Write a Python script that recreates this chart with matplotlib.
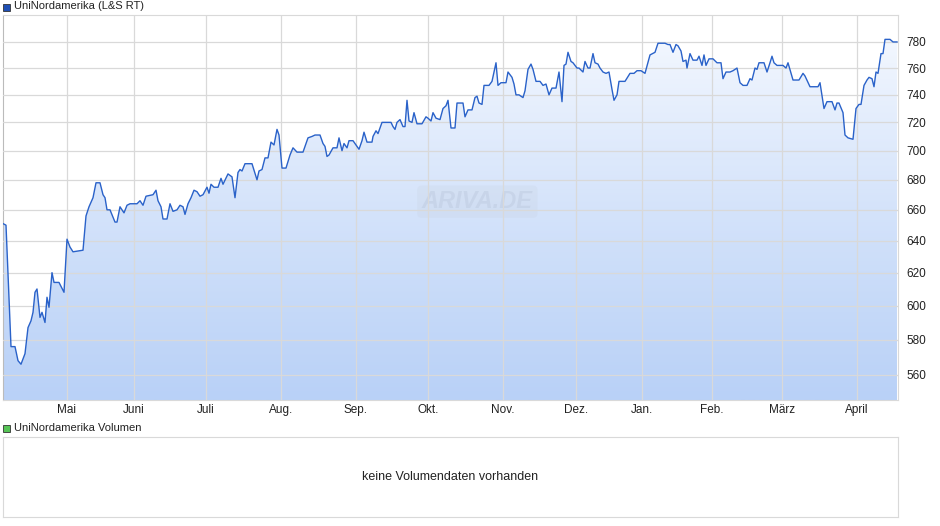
import numpy as np
import matplotlib
matplotlib.use("Agg")
import matplotlib.pyplot as plt
from matplotlib.colors import LinearSegmentedColormap
from matplotlib.ticker import FixedLocator, NullLocator, NullFormatter

# session position (time axis, pixel-proportional trading-time units) and price
t = [3, 6, 11, 15, 18, 21, 25, 28, 31, 33, 35, 37, 40, 42, 45, 47, 49, 52, 54, 59, 64, 67, 70, 73, 83, 86, 89, 93, 96, 100,
     103, 105, 107, 110, 115, 117, 120, 124, 127, 130, 137,
     140, 143, 146, 153, 156, 158, 161, 163, 167, 170, 173, 177, 180, 183, 185, 188, 191, 194, 197, 200, 203, 207, 209, 211,
     214, 218, 221, 223, 228, 232, 235, 238, 240, 242, 245, 252, 257, 259, 262, 265, 268, 271, 274, 277, 279, 282, 286,
     290, 293, 297, 303, 308, 312, 315, 320, 323, 325, 327, 329, 333, 337, 339, 342, 344, 347, 349, 353, 356, 359, 362, 364,
     367, 372, 373, 376, 378, 382, 388, 391, 393, 395, 397, 400, 403, 405, 407, 409, 412, 414, 417, 422, 426, 428, 431, 433, 436,
     440, 443, 446, 448, 451, 455, 457, 463, 465, 468, 472, 475, 477, 479, 482, 484, 489, 492, 496, 498, 501, 506, 508, 512,
     514, 516, 519, 523, 525, 528, 531, 533, 536, 540, 543, 546, 549, 552, 556, 559, 562, 564, 566, 568, 571, 573, 577, 579,
     583, 585, 588, 590, 593, 595, 598,
     600, 603, 606, 609, 612, 614, 617, 619, 625, 630, 634, 637, 641, 645, 650, 655, 658, 663, 665, 668, 670, 673, 676, 678,
     681, 683, 686, 687, 690, 693, 697, 699, 702, 704, 706, 709, 713, 717, 721, 723, 726, 730, 733, 737, 740, 743, 747, 750,
     752, 755, 757, 759, 764, 767, 770, 772, 774, 777, 783, 786, 788, 793, 799, 803, 805, 810, 818, 820, 824, 827, 832, 835,
     837, 839, 843, 845, 848, 853, 856, 859, 861, 864, 867, 869, 872, 874, 876, 878, 881, 883, 885, 890, 893, 897]
price = [651, 650, 576, 576, 568, 566, 572, 587, 591, 596, 608, 610, 593, 596, 590, 605, 599, 620, 614, 614, 608, 641, 636, 633, 634, 656, 662, 668, 678, 678,
         670, 668, 660, 660, 652, 652, 662, 658, 663, 664, 664,
         666, 663, 669, 670, 673, 666, 662, 654, 654, 664, 659, 660, 663, 662, 657, 664, 668, 673, 672, 669, 670, 675, 671, 677,
         675, 675, 681, 677, 684, 682, 668, 685, 687, 686, 691, 691, 680, 686, 687, 695, 695, 706, 704, 715, 711, 688, 688,
         697, 702, 699, 699, 709, 710, 711, 711, 705, 703, 696, 697, 702, 702, 709, 700, 705, 702, 707, 707, 704, 701, 707, 713,
         706, 706, 710, 714, 712, 720, 720, 720, 717, 715, 720, 722, 717, 717, 736, 721, 720, 727, 719, 719, 724, 723, 721, 727, 723,
         722, 730, 732, 736, 716, 716, 734, 734, 724, 729, 729, 738, 739, 734, 733, 747, 747, 750, 764, 747, 749, 749, 757, 753,
         748, 740, 740, 738, 743, 759, 763, 759, 750, 750, 747, 748, 740, 745, 745, 757, 735, 762, 763, 772, 765, 764, 760, 760,
         757, 765, 760, 760, 771, 764, 763,
         760, 757, 756, 757, 744, 736, 740, 750, 750, 756, 756, 758, 758, 756, 770, 772, 779, 779, 779, 778, 778, 772, 778, 777,
         773, 765, 766, 760, 771, 766, 766, 769, 762, 770, 762, 767, 767, 764, 764, 752, 757, 757, 758, 760, 749, 747, 747, 752,
         751, 760, 759, 764, 764, 757, 764, 769, 764, 762, 762, 760, 764, 751, 751, 756, 754, 746, 746, 749, 730, 735, 735, 729,
         734, 734, 727, 711, 709, 708, 730, 733, 733, 747, 751, 753, 752, 746, 757, 756, 771, 771, 782, 782, 780, 780]

month_pos = [67, 134, 206, 281, 356, 428, 503, 576, 642, 712, 782, 857]
month_labels = ["Mai", "Juni", "Juli", "Aug.", "Sep.", "Okt.", "Nov.", "Dez.", "Jan.", "Feb.", "März", "April"]
y_ticks = [560, 580, 600, 620, 640, 660, 680, 700, 720, 740, 760, 780]

plt.rcParams['font.family'] = ['Liberation Sans', 'DejaVu Sans']
W, H = 940, 526
fig = plt.figure(figsize=(W / 100, H / 100), dpi=100)
fig.patch.set_facecolor("white")

def box(x0, y0, x1, y1):
    return [x0 / W, 1 - y1 / H, (x1 - x0) / W, (y1 - y0) / H]

grid_c = "#d9d9d9"
ax = fig.add_axes(box(3, 15, 898, 400))
ax.set_yscale("log")
ymin, ymax = 546.2, 801.2
xmin, xmax = 3, 898
ax.set_xlim(xmin, xmax)
ax.set_ylim(ymin, ymax)

# gradient fill under the line
cmap = LinearSegmentedColormap.from_list("g", ["#b9d1f7", "#f7faff"])
grad = np.linspace(0, 1, 256).reshape(-1, 1)
im = ax.imshow(grad, extent=[xmin, xmax, ymin, ymax], origin="lower", aspect="auto", cmap=cmap, zorder=1)
poly = ax.fill_between(t, price, ymin, color="none", lw=0)
paths = poly.get_paths()
im.set_clip_path(paths[0], transform=ax.transData)
ax.set_xlim(xmin, xmax)
ax.set_ylim(ymin, ymax)

ax.plot(t, price, color="#2a62c9", lw=1.0, zorder=3)

ax.yaxis.set_major_locator(FixedLocator(y_ticks))
ax.yaxis.set_minor_locator(NullLocator())
ax.yaxis.set_minor_formatter(NullFormatter())
ax.set_yticklabels([str(v) for v in y_ticks])
ax.yaxis.tick_right()
ax.set_xticks(month_pos)
ax.set_xticklabels(month_labels)
ax.tick_params(axis="both", length=0, labelsize=8.5, colors="#222222", pad=6)
ax.tick_params(axis="x", pad=3)
ax.grid(True, color=grid_c, lw=0.9, zorder=2)
ax.set_axisbelow(False)
for s in ax.spines.values():
    s.set_color(grid_c)
ax.spines["left"].set_color("#bbbbbb")
ax.text(0.53, 0.515, "ARIVA.DE", transform=ax.transAxes, fontsize=17, fontstyle="italic",
        fontweight="bold", color="#b0bdd2", alpha=0.3, ha="center", va="center", zorder=2,
        bbox=dict(boxstyle="round,pad=0.2", fc="#c8d2e2", ec="none", alpha=0.25))

# legend texts
fig.patches.append(plt.Rectangle((3 / W, 1 - 11 / H), 7 / W, 7 / H, transform=fig.transFigure,
                                 facecolor="#1f4fb4", edgecolor="#333333", lw=0.6))
fig.text(14 / W, 1 - 6 / H, "UniNordamerika (L&S RT)", fontsize=8, va="center", color="#222222")
fig.patches.append(plt.Rectangle((3 / W, 1 - 432 / H), 7 / W, 7 / H, transform=fig.transFigure,
                                 facecolor="#56c456", edgecolor="#333333", lw=0.6))
fig.text(14 / W, 1 - 428 / H, "UniNordamerika Volumen", fontsize=8, va="center", color="#222222")

# volume panel
ax2 = fig.add_axes(box(3, 437, 898, 517))
ax2.set_xticks([]); ax2.set_yticks([])
for s in ax2.spines.values():
    s.set_color(grid_c)
ax2.text(0.5, 0.5, "keine Volumendaten vorhanden", transform=ax2.transAxes, ha="center", va="center",
         fontsize=9, color="#222222")

fig.savefig("out.png", dpi=100)
